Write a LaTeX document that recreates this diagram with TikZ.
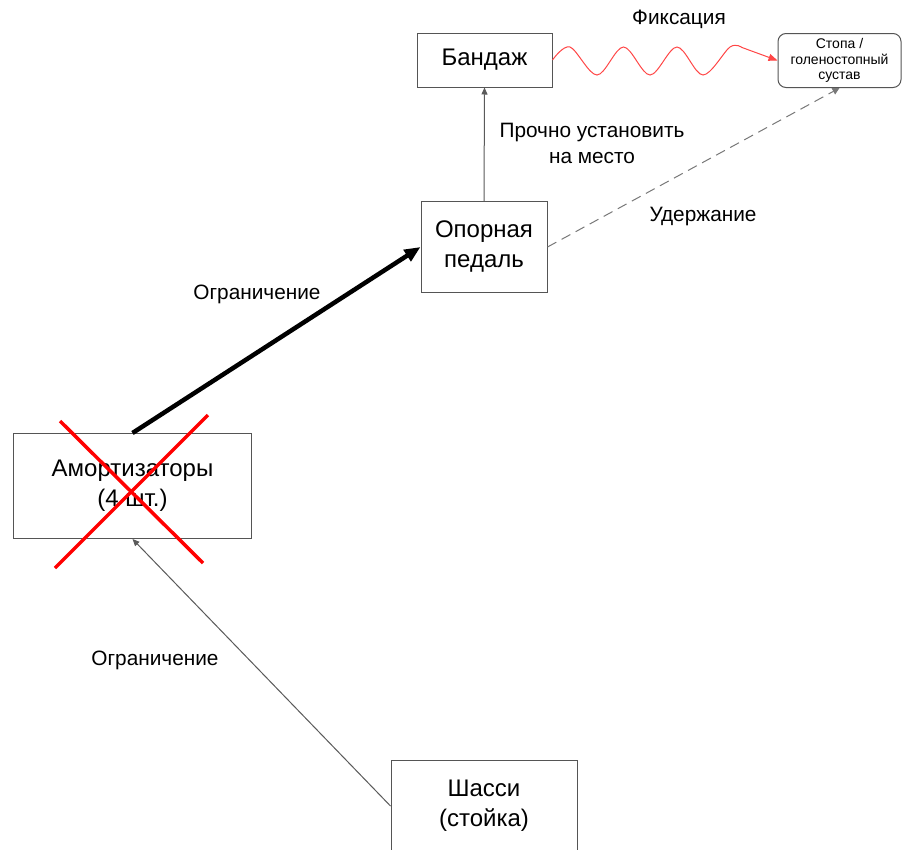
\documentclass[tikz,border=0pt]{standalone}
\usepackage{fontspec}
\setmainfont{Liberation Sans}
\usetikzlibrary{arrows.meta}
\definecolor{edgegray}{RGB}{85,85,85}
\definecolor{linkgray}{RGB}{90,90,90}
\definecolor{dashgray}{RGB}{120,120,120}
\definecolor{wavered}{RGB}{255,70,70}
\begin{document}
\begin{tikzpicture}[x=1pt,y=-1pt,
  box/.style={draw=edgegray, line width=1pt, align=center, inner sep=0pt,
    font=\fontsize{24}{30}\selectfont},
  lbl/.style={align=center, inner sep=0pt, font=\fontsize{20.8}{26}\selectfont},
  mainlink/.style={line width=4.5pt, black, -{Triangle[length=16pt,width=13pt]}},
  thinlink/.style={line width=1pt, linkgray, -{Triangle[length=7pt,width=6pt]}},
  dashlink/.style={line width=1pt, dashgray, dash pattern=on 10pt off 6pt,
    -{Triangle[length=7pt,width=7pt]}},
  wavelink/.style={line width=1pt, wavered, -{Triangle[length=9pt,width=7pt]}},
  crossline/.style={line width=3.5pt, red}]
\useasboundingbox (0,0) rectangle (902,849);
\fill[white] (0,0) rectangle (902,849);
\clip (0,0) rectangle (902,849);

% boxes
\node[box, minimum width=135pt, minimum height=54pt] (band) at (484.5,60) {Бандаж};
\node[box, rounded corners=8pt, minimum width=123pt, minimum height=54pt,
  font=\fontsize{14}{15.5}\selectfont] (foot) at (839.5,60.5) {Стопа /\\голеностопный\\сустав};
\node[box, minimum width=126pt, minimum height=91pt] (pedal) at (484,247) {Опорная\\педаль};
\node[box, minimum width=238pt, minimum height=105pt] (damp) at (132.5,486) {Амортизаторы\\(4 шт.)};
\node[box, minimum width=186pt, minimum height=92pt] (chassis) at (484,806) {Шасси\\(стойка)};

% struck-out shock absorbers
\draw[crossline] (60,421) -- (203,563);
\draw[crossline] (208,415) -- (55,568);

% connectors
\draw[mainlink] (damp.north) -- (pedal.west);
\draw[thinlink] (pedal.north) -- (band.south);
\draw[thinlink] (chassis.west) -- (damp.south);
\draw[dashlink] (pedal.east) -- (foot.south);
\draw[wavelink] plot[smooth, tension=0.55] coordinates {(band.east) (570,47) (597,75)
  (623.5,47) (650,75) (677,47) (703,75) (730,47) (742,47.5)} -- (foot.west);

% labels
\node[lbl] (fix) at (679,19) {Фиксация};
\node[lbl] (mount) at (592,143) {Прочно установить\\на место};
\node[lbl] (hold) at (703,216) {Удержание};
\node[lbl] (limtop) at (257,294) {Ограничение};
\node[lbl] (limlow) at (155,660) {Ограничение};
\end{tikzpicture}
\end{document}
